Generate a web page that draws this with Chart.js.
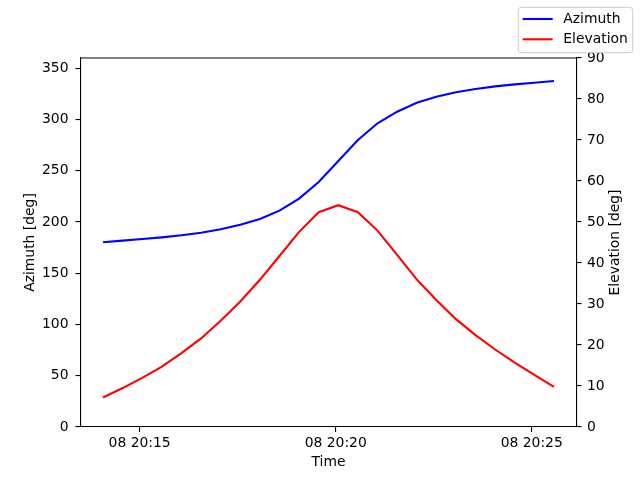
<!DOCTYPE html>
<html>
<head>
<meta charset="utf-8">
<script src="https://cdn.jsdelivr.net/npm/chart.js@4"></script>
<style>
  html, body { margin: 0; padding: 0; background: #ffffff; }
  canvas { display: block; }
</style>
</head>
<body>
<canvas id="passChart" width="640" height="480"></canvas>
<script>
// Sample times (every 30 s), day of month shown in tick labels
const dayLabel = '08';
const times = [
    '20:14:04', '20:14:34', '20:15:04', '20:15:34', '20:16:04', '20:16:34',
    '20:17:04', '20:17:34', '20:18:04', '20:18:34', '20:19:04', '20:19:34',
    '20:20:04', '20:20:34', '20:21:04', '20:21:34', '20:22:04', '20:22:34',
    '20:23:04', '20:23:34', '20:24:04', '20:24:34', '20:25:04', '20:25:34'
];

// Azimuth in degrees
const azimuth = [
    180.2, 181.8, 183.4, 185.0, 187.0, 189.6, 192.9, 197.4, 202.9, 211.1, 222.8, 239.0,
    259.5, 280.0, 296.3, 307.6, 316.4, 322.3, 326.5, 329.8, 332.3, 334.3, 335.9, 337.6
];

// Elevation in degrees
const elevation = [
    7.2, 9.5, 12.0, 14.7, 18.0, 21.6, 25.9, 30.6, 35.9, 41.7, 47.6, 52.4,
    54.1, 52.4, 47.9, 42.0, 36.0, 31.0, 26.3, 22.4, 18.9, 15.7, 12.7, 9.8
];

// Tick labels
const timeTicks = ['20:15', '20:20', '20:25'];
const azimuthTicks = [0, 50, 100, 150, 200, 250, 300, 350];
const elevationTicks = [0, 10, 20, 30, 40, 50, 60, 70, 80, 90];

// Convert "HH:MM[:SS]" to seconds of the day
function toSeconds(t) {
    const parts = t.split(':').map(Number);
    return parts[0] * 3600 + parts[1] * 60 + (parts[2] || 0);
}

function formatTime(sec) {
    const h = Math.floor(sec / 3600);
    const m = Math.round((sec % 3600) / 60);
    return dayLabel + ' ' + String(h).padStart(2, '0') + ':' + String(m).padStart(2, '0');
}

const xs = times.map(toSeconds);
const span = xs[xs.length - 1] - xs[0];
const xMin = xs[0] - span * 0.05;
const xMax = xs[xs.length - 1] + span * 0.05;

const fontFamily = 'DejaVu Sans';
const fontSize = 13.9;
const axisColor = '#000000';

function axisGrid() {
    return {
        drawOnChartArea: false,
        drawTicks: true,
        tickLength: 5,
        color: axisColor,
        lineWidth: 1.1
    };
}

function axisBorder() {
    return { display: true, color: axisColor, width: 1.1 };
}

// Top spine, right-side label and the figure legend (matplotlib style)
const frameAndLegend = {
    id: 'frameAndLegend',
    afterDraw(chart) {
        const ctx = chart.ctx;
        const area = chart.chartArea;
        ctx.save();

        // top spine
        ctx.strokeStyle = axisColor;
        ctx.lineWidth = 1.1;
        ctx.beginPath();
        ctx.moveTo(area.left, area.top);
        ctx.lineTo(area.right, area.top);
        ctx.stroke();

        // right axis label, reading bottom to top
        ctx.fillStyle = axisColor;
        ctx.font = fontSize + 'px "' + fontFamily + '"';
        ctx.textAlign = 'center';
        ctx.textBaseline = 'middle';
        ctx.translate(615.5, (area.top + area.bottom) / 2);
        ctx.rotate(-Math.PI / 2);
        ctx.fillText('Elevation [deg]', 0, 0);
        ctx.setTransform(1, 0, 0, 1, 0, 0);

        // legend box
        const bx = 518.3, by = 7.3, bw = 114.4, bh = 45.4, r = 3;
        ctx.beginPath();
        ctx.moveTo(bx + r, by);
        ctx.lineTo(bx + bw - r, by);
        ctx.quadraticCurveTo(bx + bw, by, bx + bw, by + r);
        ctx.lineTo(bx + bw, by + bh - r);
        ctx.quadraticCurveTo(bx + bw, by + bh, bx + bw - r, by + bh);
        ctx.lineTo(bx + r, by + bh);
        ctx.quadraticCurveTo(bx, by + bh, bx, by + bh - r);
        ctx.lineTo(bx, by + r);
        ctx.quadraticCurveTo(bx, by, bx + r, by);
        ctx.closePath();
        ctx.fillStyle = 'rgba(255,255,255,0.8)';
        ctx.fill();
        ctx.strokeStyle = '#cccccc';
        ctx.lineWidth = 1;
        ctx.stroke();

        const rows = [19, 39.3];
        chart.data.datasets.forEach((ds, i) => {
            const y = rows[i];
            ctx.strokeStyle = ds.borderColor;
            ctx.lineWidth = ds.borderWidth;
            ctx.beginPath();
            ctx.moveTo(522.7, y);
            ctx.lineTo(552.7, y);
            ctx.stroke();
            ctx.fillStyle = axisColor;
            ctx.textAlign = 'left';
            ctx.textBaseline = 'middle';
            ctx.fillText(ds.label, 563.3, y);
        });

        ctx.restore();
    }
};

Chart.defaults.font.family = fontFamily;
Chart.defaults.font.size = fontSize;
Chart.defaults.color = axisColor;

const ctx = document.getElementById('passChart').getContext('2d');
new Chart(ctx, {
    type: 'line',
    data: {
        datasets: [{
            label: 'Azimuth',
            data: xs.map((x, i) => ({ x: x, y: azimuth[i] })),
            borderColor: '#0000ff',
            backgroundColor: '#0000ff',
            borderWidth: 2.08,
            pointRadius: 0,
            tension: 0,
            yAxisID: 'y'
        }, {
            label: 'Elevation',
            data: xs.map((x, i) => ({ x: x, y: elevation[i] })),
            borderColor: '#ff0000',
            backgroundColor: '#ff0000',
            borderWidth: 2.08,
            pointRadius: 0,
            tension: 0,
            yAxisID: 'y1'
        }]
    },
    options: {
        responsive: false,
        animation: false,
        devicePixelRatio: 1,
        layout: { padding: { top: 58, left: 0, right: 0, bottom: 0 } },
        plugins: {
            legend: { display: false },
            tooltip: { enabled: false }
        },
        scales: {
            x: {
                type: 'linear',
                min: xMin,
                max: xMax,
                afterBuildTicks: (scale) => {
                    scale.ticks = timeTicks.map(t => ({ value: toSeconds(t) }));
                },
                afterFit: (scale) => { scale.height = 53; },
                ticks: {
                    padding: 3,
                    maxRotation: 0,
                    autoSkip: false,
                    callback: (v) => formatTime(v)
                },
                grid: axisGrid(),
                border: axisBorder(),
                title: {
                    display: true,
                    text: 'Time',
                    padding: { top: 0, bottom: 9.4 }
                }
            },
            y: {
                position: 'left',
                min: 0,
                max: 360,
                afterBuildTicks: (scale) => {
                    scale.ticks = azimuthTicks.map(v => ({ value: v }));
                },
                afterFit: (scale) => { scale.width = 80.5; },
                ticks: { padding: 7 },
                grid: axisGrid(),
                border: axisBorder(),
                title: {
                    display: true,
                    text: 'Azimuth [deg]',
                    padding: { top: 22.4, bottom: 0 }
                }
            },
            y1: {
                position: 'right',
                min: 0,
                max: 90,
                afterBuildTicks: (scale) => {
                    scale.ticks = elevationTicks.map(v => ({ value: v }));
                },
                afterFit: (scale) => { scale.width = 63.5; },
                ticks: { padding: 5.5 },
                grid: axisGrid(),
                border: axisBorder()
            }
        }
    },
    plugins: [frameAndLegend]
});
</script>
</body>
</html>
